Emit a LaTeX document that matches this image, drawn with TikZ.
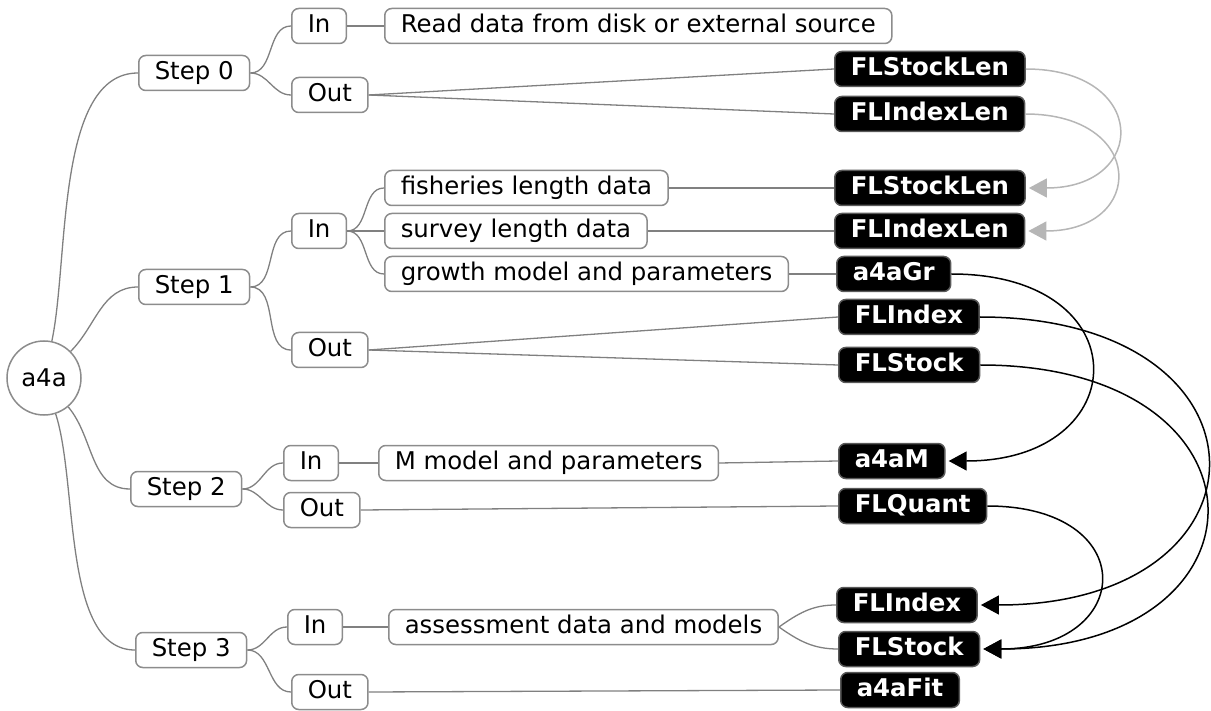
\documentclass[tikz,border=0pt]{standalone}
\usepackage{fontspec}
\setmainfont{DejaVu Sans}
\usepackage{tikz}
\usetikzlibrary{arrows.meta}
\definecolor{edgegray}{RGB}{128, 128, 128}
\definecolor{boxgray}{RGB}{140, 140, 140}
\definecolor{linkgray}{RGB}{182, 182, 182}

\tikzset{
  box/.style={draw=boxgray, line width=0.75pt, rounded corners=3.5pt, fill=white,
    anchor=west, inner xsep=8pt, inner ysep=3pt, text height=9pt, text depth=2.5pt,
    font=\fontsize{12.2}{14}\selectfont},
  dark/.style={box, draw=black!65, fill=black, text=white,
    font=\fontsize{12.2}{14}\selectfont\bfseries},
  edge/.style={draw=edgegray, line width=0.65pt},
  xref/.style={line width=0.75pt, -{Triangle[length=9pt, width=9.5pt]}, shorten >=1.5pt},
}

\begin{document}
\begin{tikzpicture}[x=0.5pt, y=-0.5pt]
  \useasboundingbox (0,0) rectangle (1211,711);

  \node[circle, draw=boxgray, line width=0.75pt, minimum size=37pt, inner sep=0pt,
    font=\fontsize{12.2}{14}\selectfont] (root) at (44,378) {a4a};

  % steps
  \node[box] (s0) at (138,73) {Step 0};
  \node[box] (s1) at (138,287) {Step 1};
  \node[box] (s2) at (130,489) {Step 2};
  \node[box] (s3) at (135,650) {Step 3};

  % in / out
  \node[box] (in0) at (291,26) {In};
  \node[box] (out0) at (291,95) {Out};
  \node[box] (in1) at (291,231) {In};
  \node[box] (out1) at (291,350) {Out};
  \node[box] (in2) at (283,463) {In};
  \node[box] (out2) at (283,510) {Out};
  \node[box] (in3) at (287,627) {In};
  \node[box] (out3) at (291,692) {Out};

  % descriptions
  \node[box] (read) at (384,26) {Read data from disk or external source};
  \node[box] (fish) at (384,188) {fisheries length data};
  \node[box] (surv) at (384,231) {survey length data};
  \node[box] (grow) at (384,274) {growth model and parameters};
  \node[box] (mmod) at (378,463) {M model and parameters};
  \node[box] (assess) at (388,627) {assessment data and models};

  % classes
  \node[dark] (stocklen0) at (834,69) {FLStockLen};
  \node[dark] (indexlen0) at (834,114) {FLIndexLen};
  \node[dark] (stocklen1) at (834,188) {FLStockLen};
  \node[dark] (indexlen1) at (834,231) {FLIndexLen};
  \node[dark] (gr1) at (836,274) {a4aGr};
  \node[dark] (index1) at (838,317) {FLIndex};
  \node[dark] (stock1) at (838,365) {FLStock};
  \node[dark] (m2) at (838,461) {a4aM};
  \node[dark] (quant2) at (838,506) {FLQuant};
  \node[dark] (index3) at (836,605) {FLIndex};
  \node[dark] (stock3) at (838,649) {FLStock};
  \node[dark] (fit3) at (840,690) {a4aFit};

  % tree
  \draw[edge] (root) to[out=78, in=180, looseness=0.75] (s0.west);
  \draw[edge] (root) to[out=45, in=180] (s1.west);
  \draw[edge] (root) to[out=-50, in=180] (s2.west);
  \draw[edge] (root) to[out=-72, in=180, looseness=0.75] (s3.west);

  \foreach \p/\c in {s0/in0, s0/out0, s1/in1, s1/out1, s2/in2, s2/out2,
                     s3/in3, s3/out3, in1/fish, in1/surv, in1/grow} {
    \draw[edge] (\p.east) to[out=0, in=180] (\c.west);
  }
  \draw[edge] (assess.east) to[out=35, in=180] (index3.west);
  \draw[edge] (assess.east) to[out=-35, in=180] (stock3.west);

  \foreach \a/\b in {in0/read, out0/stocklen0, out0/indexlen0, fish/stocklen1,
                     surv/indexlen1, grow/gr1, out1/index1, out1/stock1,
                     in2/mmod, mmod/m2, out2/quant2, in3/assess, out3/fit3} {
    \draw[edge] (\a.east) -- (\b.west);
  }

  % links between steps
  \draw[xref, linkgray] (stocklen0.east) .. controls +(123,0) and +(123,0) .. (stocklen1.east);
  \draw[xref, linkgray] (indexlen0.east) .. controls +(121,0) and +(121,0) .. (indexlen1.east);
  \draw[xref] (gr1.east) .. controls +(190,0) and +(190,0) .. (m2.east);
  \draw[xref] (index1.east) .. controls +(304,0) and +(304,0) .. (index3.east);
  \draw[xref] (stock1.east) .. controls +(300,0) and +(300,0) .. (stock3.east);
  \draw[xref] (quant2.east) .. controls +(155,0) and +(155,0) .. (stock3.east);

\end{tikzpicture}
\end{document}
